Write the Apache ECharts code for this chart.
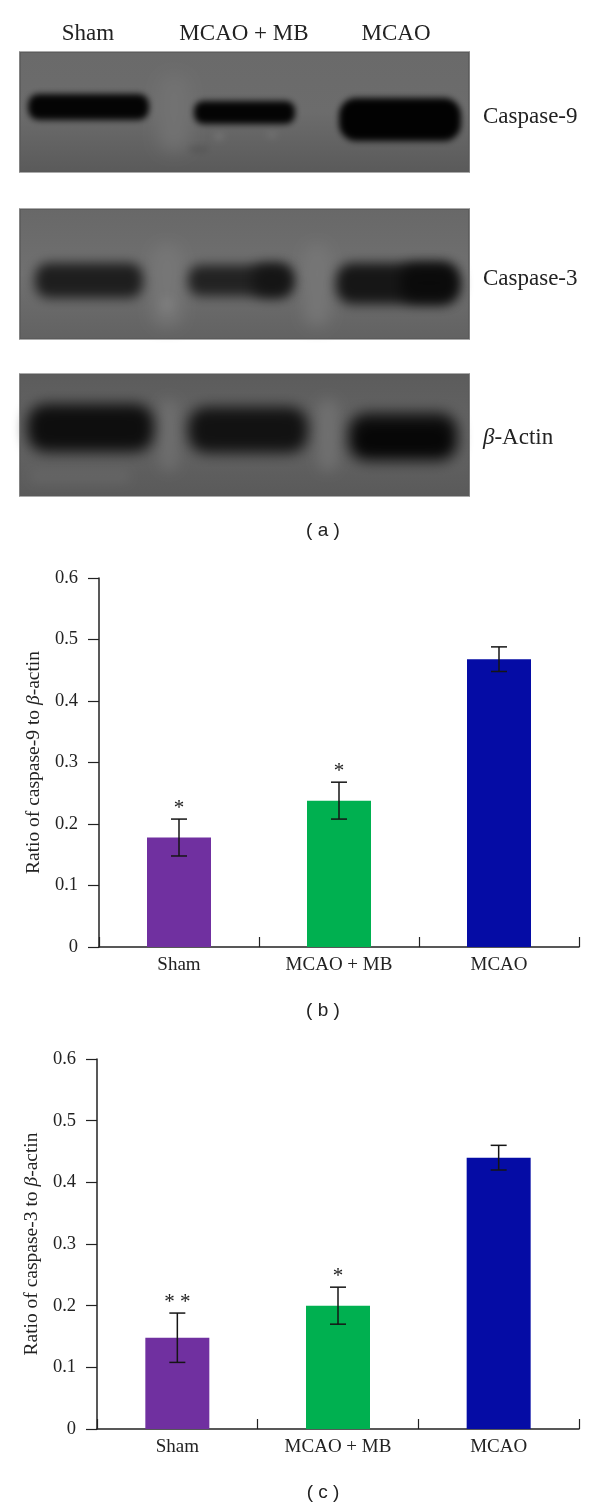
<!DOCTYPE html>
<html><head><meta charset="utf-8">
<style>html,body{margin:0;padding:0;background:#fff}#c{width:600px;height:1509px}</style>
<script src="https://cdn.jsdelivr.net/npm/echarts@6/dist/echarts.min.js"></script>
</head><body><div id="c"></div>
<script>
const categories = ['Sham', 'MCAO + MB', 'MCAO'];
const barColors = ['#7030A0', '#00B050', '#050CA5'];
const casp9Values = [0.178, 0.238, 0.468];
const casp9Low = [0.148, 0.208, 0.448];
const casp9High = [0.208, 0.268, 0.488];
const casp9Marks = ['*', '*', ''];
const casp3Values = [0.148, 0.200, 0.440];
const casp3Low = [0.108, 0.170, 0.420];
const casp3High = [0.188, 0.230, 0.460];
const casp3Marks = ['* *', '*', ''];
const yTicks = [0, 0.1, 0.2, 0.3, 0.4, 0.5, 0.6];
const serif = '"Liberation Serif"';
const ink = '#222222';

const chart = echarts.init(document.getElementById('c'), null, {renderer: 'canvas'});

function axisX(i) {
  return {
    type: 'category', gridIndex: i, data: categories,
    axisLine: {onZero: false, lineStyle: {color: ink, width: 1.5}},
    axisTick: {show: true, inside: true, length: 10, alignWithLabel: false, lineStyle: {color: ink, width: 1.2}},
    axisLabel: {color: ink, fontFamily: serif, fontSize: 19, margin: 9, interval: 0}
  };
}
function axisY(i, prefix) {
  return {
    type: 'value', gridIndex: i, min: yTicks[0], max: yTicks[yTicks.length - 1], interval: 0.1,
    splitLine: {show: false},
    axisLine: {show: true, lineStyle: {color: ink, width: 1.5}},
    axisTick: {show: true, length: 11, lineStyle: {color: ink, width: 1.2}},
    axisLabel: {color: ink, fontFamily: serif, fontSize: 18.5, margin: 21},
    name: '{t|' + prefix + '}{i|\u03b2}{t|-actin}',
    nameLocation: 'middle', nameRotate: 90, nameGap: 55,
    nameTextStyle: {rich: {
      t: {fontFamily: serif, fontSize: 19.5, color: ink},
      i: {fontFamily: serif, fontSize: 19.5, fontStyle: 'italic', color: ink}
    }}
  };
}
function barSeries(i, values) {
  return {
    type: 'bar', xAxisIndex: i, yAxisIndex: i, barWidth: 64, silent: true,
    data: values.map((v, k) => ({value: v, itemStyle: {color: barColors[k]}}))
  };
}
function errSeries(i, low, high, marks) {
  return {
    type: 'custom', xAxisIndex: i, yAxisIndex: i, silent: true, z: 5,
    data: categories.map((c, k) => [k, low[k], high[k]]),
    renderItem(params, api) {
      const lo = api.coord([api.value(0), api.value(1)]);
      const hi = api.coord([api.value(0), api.value(2)]);
      const cap = 8;
      const st = {stroke: '#151515', lineWidth: 1.5, fill: null};
      return {type: 'group', children: [
        {type: 'line', shape: {x1: lo[0], y1: lo[1], x2: hi[0], y2: hi[1]}, style: st},
        {type: 'line', shape: {x1: lo[0] - cap, y1: lo[1], x2: lo[0] + cap, y2: lo[1]}, style: st},
        {type: 'line', shape: {x1: hi[0] - cap, y1: hi[1], x2: hi[0] + cap, y2: hi[1]}, style: st},
        {type: 'text', style: {x: hi[0], y: hi[1], text: marks[params.dataIndex], align: 'center', verticalAlign: 'bottom',
          font: '21px "Liberation Serif"', fill: ink}}
      ]};
    }
  };
}

// Western-blot photograph panels: soft shapes only, drawn as the shadow of an off-page rect.
const FAR = 3000;
function soft(x, y, w, h, color, blur) {
  return {type: 'rect', shape: {x: x - FAR, y: y, width: w, height: h, r: Math.min(w, h) / 2.5},
    style: {fill: color, shadowColor: color, shadowBlur: blur, shadowOffsetX: FAR}};
}
function panel(y, h, top, mid, bottom, spots, bands) {
  return [
    {type: 'rect', shape: {x: 20, y: y, width: 449, height: h},
      style: {fill: {type: 'linear', x: 0, y: 0, x2: 0, y2: 1, colorStops: [
        {offset: 0, color: top}, {offset: 0.5, color: mid}, {offset: 1, color: bottom}]}}},
    ...spots.map(s => soft(...s)),
    ...bands.map(b => soft(...b)),
    {type: 'rect', shape: {x: 20, y: y, width: 449, height: h},
      style: {fill: 'none', stroke: '#5a5a5a', lineWidth: 1.5}},
    {type: 'line', shape: {x1: 20, y1: y - 0.5, x2: 469, y2: y - 0.5}, style: {stroke: '#aaaaaa', lineWidth: 1}},
    {type: 'line', shape: {x1: 20, y1: y + h + 0.5, x2: 469, y2: y + h + 0.5}, style: {stroke: '#aaaaaa', lineWidth: 1}}
  ];
}
const text = (x, y, t, extra) => ({type: 'text', x: x, y: y, style: Object.assign({text: t, fill: ink,
  font: '23px "Liberation Serif"', align: 'center', verticalAlign: 'middle'}, extra || {})});

const graphics = [].concat(
  panel(52, 120, '#6a6a6a', '#6c6c6c', '#5a5a5a',
    [[158, 75, 32, 75, '#727272', 18], [215, 134, 8, 5, '#7c7c7c', 7], [268, 132, 8, 5, '#767676', 7], [190, 147, 18, 5, '#545454', 7]],
    [[28, 94, 121, 26, '#040404', 6], [194, 101, 101, 23, '#040404', 6], [339, 98, 122, 43, '#020202', 6]]),
  panel(209, 130, '#686868', '#707070', '#626262',
    [[152, 245, 30, 80, '#767676', 16], [304, 245, 26, 80, '#767676', 16], [162, 298, 10, 12, '#808080', 10]],
    [[35, 263, 108, 35, '#1e1e1e', 12], [188, 265, 104, 31, '#222222', 12], [252, 265, 40, 31, '#141414', 14],
     [336, 263, 122, 41, '#161616', 12], [400, 265, 58, 36, '#0a0a0a', 14]]),
  panel(374, 122, '#5c5c5c', '#646464', '#5a5a5a',
    [[160, 400, 18, 70, '#6e6e6e', 14], [318, 400, 20, 70, '#707070', 14], [30, 470, 100, 12, '#666666', 12]],
    [[27, 404, 127, 48, '#0e0e0e', 14], [188, 407, 120, 46, '#121212', 14], [348, 413, 110, 48, '#0e0e0e', 14], [360, 428, 86, 22, '#060606', 10]]),
  [
    text(88, 34, 'Sham'), text(244, 34, 'MCAO + MB'), text(396, 34, 'MCAO'),
    text(483, 117, 'Caspase-9', {align: 'left'}),
    text(483, 279, 'Caspase-3', {align: 'left'}),
    {type: 'text', x: 483, y: 438, style: {text: '{i|\u03b2}{t|-Actin}', align: 'left', verticalAlign: 'middle', fill: ink,
      rich: {i: {font: 'italic 23px "Liberation Serif"', fill: ink}, t: {font: '23px "Liberation Serif"', fill: ink}}}},
    text(323, 531, '( a )', {font: '19px "Liberation Sans"'}),
    text(323, 1011, '( b )', {font: '19px "Liberation Sans"'}),
    text(323, 1493, '( c )', {font: '19px "Liberation Sans"'})
  ]
);

chart.setOption({
  animation: false,
  backgroundColor: '#fff',
  grid: [
    {left: 99, width: 480, top: 578, height: 369},
    {left: 97, width: 482, top: 1059, height: 370}
  ],
  xAxis: [axisX(0), axisX(1)],
  yAxis: [axisY(0, 'Ratio of caspase-9 to '), axisY(1, 'Ratio of caspase-3 to ')],
  series: [
    barSeries(0, casp9Values), errSeries(0, casp9Low, casp9High, casp9Marks),
    barSeries(1, casp3Values), errSeries(1, casp3Low, casp3High, casp3Marks)
  ],
  graphic: {elements: graphics}
});
</script></body></html>
